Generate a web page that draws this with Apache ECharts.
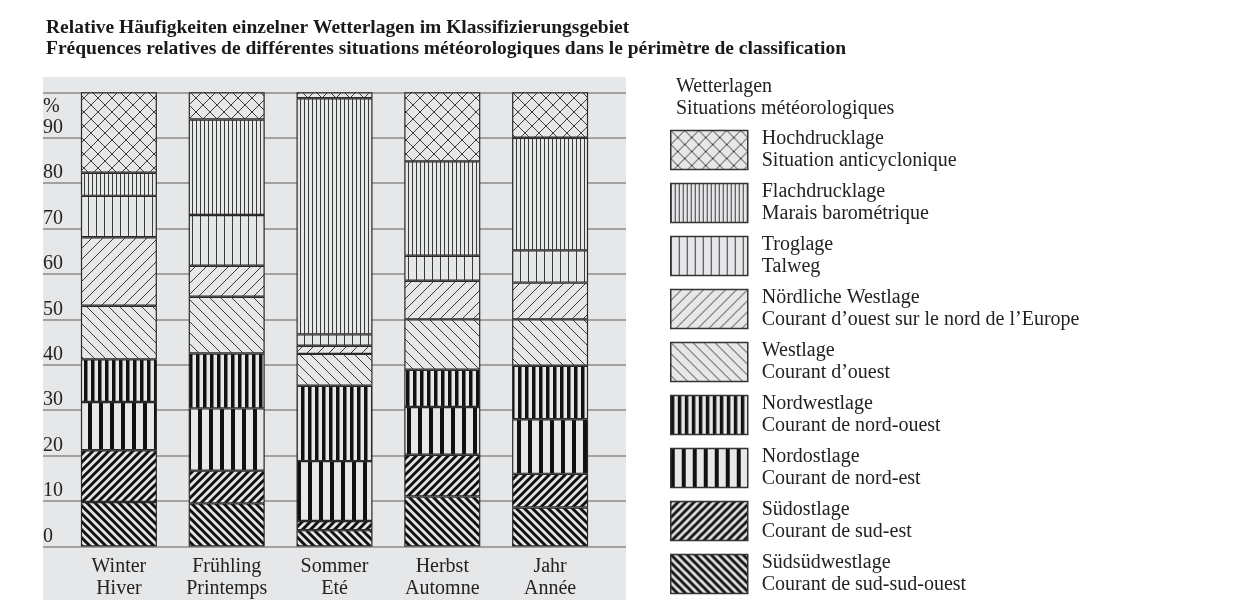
<!DOCTYPE html>
<html>
<head>
<meta charset="utf-8">
<script src="https://cdn.jsdelivr.net/npm/echarts@6/dist/echarts.min.js"></script>
<style>
  html, body { margin: 0; padding: 0; background: #fff; }
  #chart { width: 1244px; height: 600px; }
</style>
</head>
<body>
<div id="chart"></div>
<script>
// seasons, bottom-to-top stack order of weather types
const seasons = ['Winter\nHiver', 'Frühling\nPrintemps', 'Sommer\nEté', 'Herbst\nAutomne', 'Jahr\nAnnée'];

const ssw   = [9.8, 9.5, 3.6, 11.0, 8.6];
const se    = [11.4, 7.2, 2.0, 9.2, 7.4];
const ne    = [10.6, 13.7, 13.2, 10.5, 12.0];
const nw    = [9.4, 12.1, 16.6, 8.2, 11.8];
const west  = [11.8, 12.5, 7.0, 11.1, 10.2];
const nordW = [15.1, 6.8, 1.8, 8.5, 8.1];
const trog  = [9.1, 11.2, 2.5, 5.5, 7.1];
const flach = [5.1, 21.0, 52.0, 20.8, 24.8];
const hoch  = [17.7, 6.0, 1.3, 15.2, 10.0];

const yTicks = [0, 10, 20, 30, 40, 50, 60, 70, 80, 90];

const labelsFr = {
  'Hochdrucklage': 'Situation anticyclonique',
  'Flachdrucklage': 'Marais barométrique',
  'Troglage': 'Talweg',
  'Nördliche Westlage': 'Courant d’ouest sur le nord de l’Europe',
  'Westlage': 'Courant d’ouest',
  'Nordwestlage': 'Courant de nord-ouest',
  'Nordostlage': 'Courant de nord-est',
  'Südostlage': 'Courant de sud-est',
  'Südsüdwestlage': 'Courant de sud-sud-ouest'
};

const BG = '#e6e7e9';
const FONT = '"Liberation Serif", "DejaVu Serif", serif';

function tile(w, h) {
  const c = document.createElement('canvas');
  c.width = w; c.height = h;
  const ctx = c.getContext('2d');
  ctx.fillStyle = BG;
  ctx.fillRect(0, 0, w, h);
  return [c, ctx];
}

function vertical(p, lw, color) {
  const [c, ctx] = tile(p, p);
  ctx.fillStyle = color;
  ctx.fillRect(0, 0, lw, p);
  return { image: c, repeat: 'repeat' };
}

function diagonal(p, lw, color, dirs) {
  const [c, ctx] = tile(p, p);
  ctx.strokeStyle = color;
  ctx.lineWidth = lw;
  ctx.lineCap = 'square';
  for (const d of dirs) {
    for (const k of [-p, 0, p]) {
      ctx.beginPath();
      if (d === '/') { ctx.moveTo(k, p); ctx.lineTo(k + p, 0); }
      else { ctx.moveTo(k, 0); ctx.lineTo(k + p, p); }
      ctx.stroke();
    }
  }
  return { image: c, repeat: 'repeat' };
}

const patterns = {
  'Hochdrucklage': diagonal(14, 1, '#3a3a3a', ['/', '\\']),
  'Flachdrucklage': vertical(4, 1, '#3a3a3a'),
  'Troglage': vertical(8, 1, '#3a3a3a'),
  'Nördliche Westlage': diagonal(11, 1, '#3a3a3a', ['/']),
  'Westlage': diagonal(11, 1, '#3a3a3a', ['\\']),
  'Nordwestlage': vertical(7, 3.5, '#111'),
  'Nordostlage': vertical(11, 4, '#111'),
  'Südostlage': diagonal(8, 3, '#111', ['/']),
  'Südsüdwestlage': diagonal(8, 3, '#111', ['\\'])
};

const stackOrder = [
  ['Südsüdwestlage', ssw],
  ['Südostlage', se],
  ['Nordostlage', ne],
  ['Nordwestlage', nw],
  ['Westlage', west],
  ['Nördliche Westlage', nordW],
  ['Troglage', trog],
  ['Flachdrucklage', flach],
  ['Hochdrucklage', hoch]
];

const chart = echarts.init(document.getElementById('chart'));

chart.setOption({
  animation: false,
  backgroundColor: '#fff',
  textStyle: { fontFamily: FONT },
  title: [
    {
      text: 'Relative Häufigkeiten einzelner Wetterlagen im Klassifizierungsgebiet\nFréquences relatives de différentes situations météorologiques dans le périmètre de classification',
      left: 41, top: 12,
      textStyle: { fontFamily: FONT, fontSize: 19.5, fontWeight: 'bold', color: '#1a1a1a', lineHeight: 21 }
    },
    {
      text: 'Wetterlagen\nSituations météorologiques',
      left: 671, top: 71,
      textStyle: { fontFamily: FONT, fontSize: 20, fontWeight: 'normal', color: '#222', lineHeight: 22 }
    }
  ],
  graphic: [
    { type: 'rect', z: -100, silent: true, shape: { x: 43, y: 77, width: 583, height: 523 }, style: { fill: BG } }
  ],
  legend: {
    orient: 'vertical',
    left: 670, top: 128, height: 470,
    padding: 0,
    itemWidth: 77, itemHeight: 39, itemGap: 9,
    icon: 'rect',
    selectedMode: false,
    data: stackOrder.map(s => s[0]).reverse(),
    itemStyle: { borderColor: '#333', borderWidth: 1.5 },
    formatter: name => name + '\n' + labelsFr[name],
    textStyle: { fontFamily: FONT, fontSize: 20, lineHeight: 22, color: '#222', padding: [0, 0, 0, 9] }
  },
  grid: [
    { left: 43, right: 1244 - 626, top: 92.3, bottom: 53.5 },
    { left: 65, right: 1244 - 604, top: 92.3, bottom: 53.5 }
  ],
  xAxis: [
    { gridIndex: 0, type: 'value', show: false, min: 0, max: 1 },
    {
      gridIndex: 1, type: 'category', data: seasons,
      axisLine: { show: false }, axisTick: { show: false },
      axisLabel: { color: '#222', fontFamily: FONT, fontSize: 20, lineHeight: 22, margin: 9 }
    }
  ],
  yAxis: [
    {
      gridIndex: 0, type: 'value', min: 0, max: 100, interval: 10,
      name: '%', nameLocation: 'end', nameGap: -4,
      nameTextStyle: { fontFamily: FONT, fontSize: 20, color: '#222', align: 'left', verticalAlign: 'top', padding: [0, 0, 0, 0] },
      axisLine: { show: false }, axisTick: { show: false },
      axisLabel: {
        inside: true, margin: 0, align: 'left', verticalAlign: 'bottom',
        color: '#222', fontFamily: FONT, fontSize: 20,
        formatter: v => yTicks.includes(v) ? String(v) : ''
      },
      splitLine: { lineStyle: { color: '#8a8a8a', width: 1.5 } }
    },
    { gridIndex: 1, type: 'value', min: 0, max: 100, show: false, splitLine: { show: false } }
  ],
  series: stackOrder.map(([name, values]) => ({
    name,
    type: 'bar',
    stack: 'total',
    xAxisIndex: 1,
    yAxisIndex: 1,
    barWidth: 76,
    data: values,
    itemStyle: { color: patterns[name], borderColor: '#2a2a2a', borderWidth: 1.2 },
    emphasis: { disabled: true }
  }))
});
</script>
</body>
</html>
